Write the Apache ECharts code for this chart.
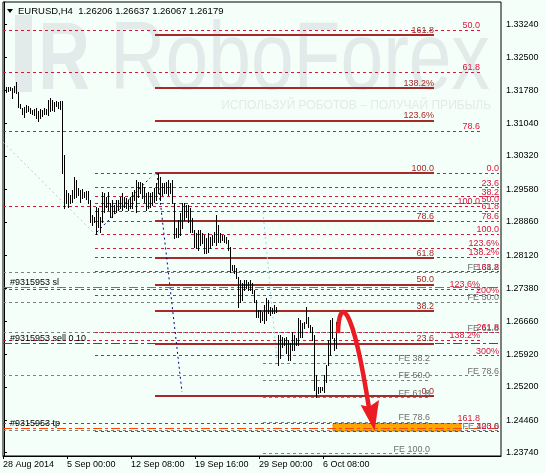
<!DOCTYPE html>
<html><head><meta charset="utf-8">
<script src="https://cdn.jsdelivr.net/npm/echarts@6/dist/echarts.min.js"></script>
<style>html,body{margin:0;padding:0;background:#f5fffa;}#c{width:546px;height:473px;}</style>
</head><body><div id="c"></div>
<script>
// ---- data (H4 bars, high / low) ----
const barHigh = [1.31834,1.31856,1.31843,1.31856,1.31834,1.31872,1.31967,1.31745,1.31466,1.31377,
1.31412,1.31450,1.31435,1.31377,1.31339,1.31355,1.31377,1.31317,1.31361,1.31339,
1.31377,1.31361,1.31561,1.31599,1.31561,1.31523,1.31539,1.31510,1.31546,1.31539,
1.30341,1.29565,1.29492,1.29454,1.29565,1.29860,1.29787,1.29603,1.29565,1.29587,
1.29527,1.29543,1.29543,1.29343,1.29010,1.28973,1.29194,1.29159,1.28973,1.29527,
1.29492,1.29416,1.29527,1.29270,1.29343,1.29232,1.29343,1.29343,1.29416,1.29492,
1.29416,1.29381,1.29343,1.29416,1.29527,1.29565,1.29787,1.29749,1.29749,1.29713,
1.29638,1.29492,1.29527,1.29492,1.29527,1.29603,1.29713,1.29935,1.29860,1.29713,
1.29713,1.29749,1.29787,1.29713,1.29787,1.29270,1.28722,1.28899,1.29055,1.29277,
1.29277,1.29232,1.29232,1.29166,1.28944,1.28678,1.28611,1.28678,1.28678,1.28611,
1.28567,1.28500,1.28611,1.28529,1.28567,1.28640,1.29010,1.28789,1.28611,1.28567,
1.28567,1.28529,1.28456,1.28307,1.27901,1.27901,1.27828,1.27642,1.27569,1.27495,
1.27569,1.27569,1.27532,1.27569,1.27495,1.27347,1.27125,1.26903,1.26903,1.26866,
1.27014,1.27163,1.27125,1.26976,1.26941,1.27014,1.26976,1.26349,1.26349,1.26311,
1.26276,1.26311,1.26238,1.26165,1.26422,1.26349,1.26276,1.26719,1.26681,1.26608,
1.26644,1.26976,1.26755,1.26571,1.26533,1.26349,1.25462,1.25202,1.25202,1.25202,
1.25462,1.25683,1.26238,1.26681,1.26719,1.26276,1.26637];
const barLow = [1.31583,1.31745,1.31761,1.31783,1.31599,1.31745,1.31710,1.31399,1.31377,1.31244,
1.31191,1.31302,1.31317,1.31266,1.31244,1.31228,1.31155,1.31095,1.31155,1.31213,
1.31244,1.31244,1.31228,1.31317,1.31339,1.31317,1.31435,1.31390,1.31361,1.29935,
1.29172,1.29270,1.29194,1.29270,1.29305,1.29381,1.29416,1.29454,1.29305,1.29381,
1.29416,1.29365,1.29270,1.28862,1.28789,1.28862,1.28582,1.28751,1.28640,1.28862,
1.29084,1.29194,1.29121,1.28973,1.28973,1.29048,1.29084,1.29121,1.29159,1.29121,
1.29194,1.29159,1.29121,1.29159,1.29159,1.29343,1.29084,1.29416,1.29492,1.29381,
1.29305,1.29121,1.29159,1.29194,1.29232,1.29305,1.29343,1.29492,1.29343,1.29454,
1.29492,1.29492,1.29454,1.29492,1.29270,1.28500,1.28529,1.28529,1.28567,1.28722,
1.28899,1.28973,1.28862,1.28640,1.28640,1.28307,1.28278,1.28234,1.28345,1.28389,
1.28168,1.28168,1.28196,1.28278,1.28345,1.28418,1.28345,1.28418,1.28418,1.28456,
1.28418,1.28383,1.28234,1.27753,1.27790,1.27717,1.27606,1.26976,1.27087,1.27125,
1.27347,1.27385,1.27347,1.27347,1.27274,1.27087,1.26755,1.26755,1.26644,1.26681,
1.26608,1.26681,1.26830,1.26792,1.26830,1.26830,1.26866,1.25683,1.25832,1.26089,
1.26127,1.25943,1.25794,1.25794,1.26016,1.26016,1.26127,1.26127,1.26311,1.26311,
1.26497,1.26608,1.26533,1.26422,1.26238,1.25129,1.24980,1.25056,1.25091,1.25129,
1.25091,1.25313,1.25683,1.25905,1.26276,1.26016,1.26067];

const xTickIndex = [0, 32, 64, 96, 128, 160];
const xTickLabels = ['28 Aug 2014', '5 Sep 00:00', '12 Sep 08:00', '19 Sep 16:00', '29 Sep 00:00', '6 Oct 08:00'];
const yTickValues = [1.33240, 1.32500, 1.31780, 1.31040, 1.30320, 1.29580, 1.28860, 1.28120, 1.27380, 1.26660, 1.25920, 1.25200, 1.24460, 1.23740];
const lastPrice = 1.26179;
const titleText = 'EURUSD,H4  1.26206 1.26637 1.26067 1.26179';

// Fibonacci tools: price at 0 % and at 100 %, levels and their labels
const fibA_0 = 1.24997, fibA_100 = 1.29943;
const fibA_levels = [0, 23.6, 38.2, 50, 61.8, 78.6, 100, 123.6, 138.2, 161.8];
const fibA_labels = ['0.0', '23.6', '38.2', '50.0', '61.8', '78.6', '100.0', '123.6%', '138.2%', '161.8'];
const fibB_0 = 1.29936, fibB_100 = 1.28588;
const fibB_levels = [0, 23.6, 38.2, 50, 61.8, 78.6, 100, 123.6, 138.2, 161.8, 200, 261.8, 300, 423.6];
const fibB_labels = ['0.0', '23.6', '38.2', '50.0', '61.8', '78.6', '100.0', '123.6%', '138.2%', '161.8', '200%', '261.8', '300%', '423.6'];
const fibC_0 = 1.37006, fibC_100 = 1.29209;
const fibC_levels = [50, 61.8, 78.6, 100, 123.6, 138.2, 161.8];
const fibC_labels = ['50.0', '61.8', '78.6', '100.0', '123.6%', '138.2%', '161.8'];
const fe1_0 = 1.26971, fe1_100 = 1.23720;
const fe2_0 = 1.29920, fe2_100 = 1.24230;
const fe_levels = [38.2, 50, 61.8, 78.6, 100];
const fe_labels = ['FE 38.2', 'FE 50.0', 'FE 61.8', 'FE 78.6', 'FE 100.0'];

// order lines
const slPrice = 1.27407, sellPrice = 1.26165, tpPrice = 1.24293;
const slLabel = '#9315953 sl', sellLabel = '#9315953 sell 0.10', tpLabel = '#9315953 tp';
// target zone
const zoneTop = 1.24386, zoneBottom = 1.24219, zoneFrom = 164.5, zoneTo = 228.5;

// dotted tool diagonals [i1, p1, i2, p2, colour]
const diagonals = [
  [-0.5, 1.30629, 45.5, 1.28589, '#9fd3e6'],
  [46.5, 1.28633, 73, 1.29831, '#000080'],
  [73, 1.29831, 76.5, 1.29942, '#9fd3e6'],
  [76.5, 1.29942, 89, 1.25085, '#000080'],
  [129.5, 1.29077, 136.5, 1.25794, '#9fd3e6']
];
// forecast arrow (bar index, price)
const arrowPath = [[167, 1.26393], [167.5, 1.27214], [174, 1.27125], [182.5, 1.24730]];
const arrowHead = [[178.3, 1.24796], [185.3, 1.24226], [187.5, 1.24907], [182.6, 1.24760]];

// ---- chart ----
const FONT = 'Liberation Sans';
const chart = echarts.init(document.getElementById('c'), null, {renderer: 'canvas'});

function fibLines(p0, p100, levels, labels, iFrom, iTo, color, type, width, labelColor) {
  return levels.map((r, k) => {
    const v = p0 + (p100 - p0) * r / 100;
    return [{coord: [iFrom, v], lineStyle: {color: color, type: type, width: width},
             label: {formatter: labels[k], color: labelColor}}, {coord: [iTo, v]}];
  });
}
const mlBase = {silent: true, symbol: ['none', 'none'], animation: false,
  label: {show: true, position: 'insideEndTop', distance: [0, 0], fontSize: 9, fontFamily: FONT}};

const DASH = [3, 3];
const CRIMSON = '#dc143c', BROWN = '#a52a2a', GREY = '#808080';

function orderLine(price, color, label) {
  return [{coord: [-0.5, price], lineStyle: {color: color, type: [9, 3, 3, 3], width: 1},
           label: {formatter: label, position: 'insideStartTop', distance: [7, 0], color: '#000'}},
          {coord: [248.5, price]}];
}

const option = {
  animation: false,
  backgroundColor: '#f5fffa',
  grid: {left: 3, right: 45, top: 2, bottom: 17, show: true, borderColor: '#000', borderWidth: 1, backgroundColor: 'transparent'},
  xAxis: {
    type: 'value', min: -0.5, max: 248.5,
    axisLine: {show: true, lineStyle: {color: '#000'}},
    axisTick: {show: true, customValues: xTickIndex.map(i => i - 0.5), length: 3, lineStyle: {color: '#000'}},
    axisLabel: {show: true, customValues: xTickIndex.map(i => i - 0.5), align: 'left', margin: 4,
      fontSize: 9, fontFamily: FONT, color: '#000',
      formatter: v => { const k = xTickIndex.indexOf(Math.round(v + 0.5)); return k >= 0 ? xTickLabels[k] : ''; }},
    splitLine: {show: false}
  },
  yAxis: {
    type: 'value', position: 'right', min: 1.23667, max: 1.33735, scale: true,
    axisLine: {show: true, lineStyle: {color: '#000'}},
    axisTick: {show: true, customValues: yTickValues, length: 3, lineStyle: {color: '#000'}},
    axisLabel: {show: true, customValues: yTickValues, margin: 5, fontSize: 9, fontFamily: FONT, color: '#000',
      formatter: v => v.toFixed(5)},
    splitLine: {show: false}
  },
  series: [
    {type: 'line', data: [], z: 2, markLine: Object.assign({}, mlBase, {data:
      fibLines(fe2_0, fe2_100, fe_levels, fe_labels, -0.5, 247.5, GREY, DASH, 1, '#707070')
      .concat(fibLines(fe1_0, fe1_100, fe_levels, fe_labels, 129.5, 213, GREY, DASH, 1, '#707070'))})},
    {type: 'line', data: [], z: 3, markLine: Object.assign({}, mlBase, {data:
      fibLines(fibC_0, fibC_100, fibC_levels, fibC_labels, -0.5, 238, CRIMSON, DASH, 1, CRIMSON)
      .concat(fibLines(fibB_0, fibB_100, fibB_levels, fibB_labels, 45.5, 247.5, CRIMSON, DASH, 1, CRIMSON))})},
    {type: 'line', data: [], z: 4, markLine: Object.assign({}, mlBase, {data:
      fibLines(fibA_0, fibA_100, fibA_levels, fibA_labels, 75.5, 215, BROWN, 'solid', 2, BROWN)})},
    {type: 'line', data: [], z: 4, markLine: Object.assign({}, mlBase, {label: {show: false}, data:
      diagonals.map(d => [{coord: [d[0], d[1]], lineStyle: {color: d[4], type: [2, 3], width: 1}}, {coord: [d[2], d[3]]}])})},
    {type: 'line', data: [], z: 5,
      markArea: {silent: true, itemStyle: {color: '#ffa500', borderColor: '#f08c00', borderWidth: 1},
        data: [[{coord: [zoneFrom, zoneTop]}, {coord: [zoneTo, zoneBottom]}]]},
      markLine: Object.assign({}, mlBase, {label: {show: true, position: 'insideStartTop', distance: [7, 0], fontSize: 9, fontFamily: FONT, color: '#000'},
        data: [orderLine(slPrice, '#ff4500', slLabel), orderLine(sellPrice, '#008000', sellLabel), orderLine(tpPrice, '#ff4500', tpLabel),
          [{coord: [lastPrice < 0 ? 0 : -0.5, lastPrice], lineStyle: {opacity: 0},
            label: {formatter: lastPrice.toFixed(5), position: 'end', distance: 2, color: '#fff', backgroundColor: '#000', padding: [1, 3, 0, 2]}},
           {coord: [248.5, lastPrice]}]]})},
    {type: 'custom', z: 6, silent: true,
      data: barHigh.map((h, i) => [i, h, barLow[i]]),
      encode: {x: 0, y: [1, 2]},
      renderItem: (params, api) => {
        const i = api.value(0);
        const a = api.coord([i, api.value(1)]);
        const b = api.coord([i, api.value(2)]);
        const x = Math.floor(a[0]) + 0.5;
        return {type: 'line', shape: {x1: x, y1: Math.round(a[1]), x2: x, y2: Math.round(b[1]) + 1},
                style: {stroke: '#000', lineWidth: 1}};
      }}
  ]
};
chart.setOption(option);

// decorations: watermark, title, forecast arrow
const px = p => chart.convertToPixel({gridIndex: 0}, p);
const ap = arrowPath.map(px), ah = arrowHead.map(px);
chart.setOption({graphic: [
  {type: 'rect', z: -10, silent: true, shape: {x: 15, y: 15, width: 17, height: 77}, style: {fill: '#e2ebe9'}},
  {type: 'text', z: -10, silent: true, x: 38, y: 63, scaleX: 0.75, style: {text: 'R', fontSize: 96, fontWeight: 'bold', fontFamily: FONT, fill: '#e2ebe9', verticalAlign: 'middle'}},
  {type: 'text', z: -10, silent: true, x: 110, y: 63, scaleX: 0.8, style: {text: 'RoboForex', fontSize: 96, fontFamily: FONT, fill: '#e2ebe9', verticalAlign: 'middle'}},
  {type: 'text', z: -10, silent: true, x: 491, y: 106, style: {text: 'ИСПОЛЬЗУЙ РОБОТОВ – ПОЛУЧАЙ ПРИБЫЛЬ', fontSize: 12, fontFamily: FONT, fill: '#e2ebe9', align: 'right', verticalAlign: 'middle'}},
  {type: 'polygon', z: 50, silent: true, shape: {points: [[7, 9], [13, 9], [10, 13]]}, style: {fill: '#000'}},
  {type: 'text', z: 50, silent: true, x: 18, y: 11, style: {text: titleText, fontSize: 9.5, fontFamily: FONT, fill: '#000', verticalAlign: 'middle'}},
  {type: 'bezierCurve', z: 60, silent: true,
    shape: {x1: ap[0][0], y1: ap[0][1], cpx1: ap[1][0], cpy1: ap[1][1], cpx2: ap[2][0], cpy2: ap[2][1], x2: ap[3][0], y2: ap[3][1]},
    style: {stroke: '#ec1c24', lineWidth: 4.5, fill: null}},
  {type: 'polygon', z: 60, silent: true, shape: {points: ah}, style: {fill: '#ec1c24'}}
]});
</script></body></html>
